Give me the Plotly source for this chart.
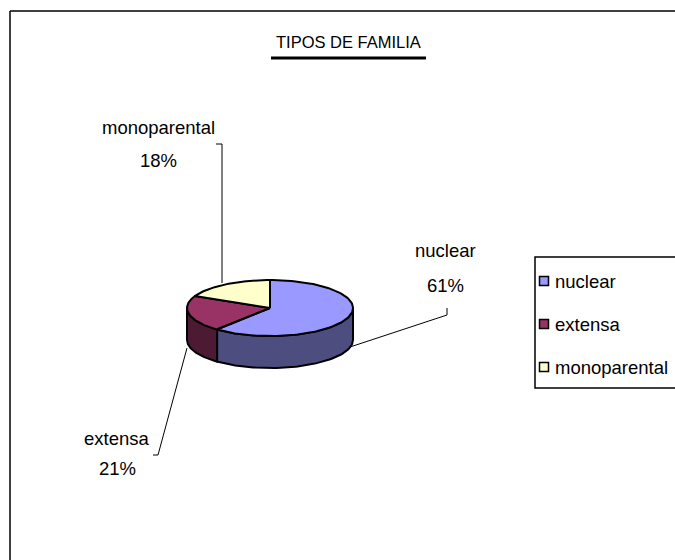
import numpy as np
import plotly.graph_objects as go

# ---- data ----
categories = ["nuclear", "extensa", "monoparental"]
values = [61, 21, 18]
title_text = "TIPOS DE FAMILIA"

# ---- styles ----
top_colors = ["#9999FF", "#993366", "#FFFFCC"]
side_colors = ["#4D4D80", "#4D1A33", "#808066"]
FONT = "Liberation Sans, Arial, sans-serif"
W, H = 675, 560
cx, cy, rx, ry, depth = 270, 308, 83, 28, 32

def rim(theta_deg, dy=0.0):
    t = np.radians(theta_deg)
    return cx + rx * np.sin(t), cy - ry * np.cos(t) + dy

total = sum(values)
bounds = np.cumsum([0] + values) / total * 360.0

fig = go.Figure()

# side walls (front half only: 90..270 deg)
for i, cat in enumerate(categories):
    a0, a1 = max(bounds[i], 90), min(bounds[i + 1], 270)
    if a1 <= a0:
        continue
    th = np.linspace(a0, a1, 80)
    xt, yt = rim(th)
    xb, yb = rim(th[::-1], depth)
    xs = np.concatenate([xt, xb, xt[:1]])
    ys = np.concatenate([yt, yb, yt[:1]])
    fig.add_trace(go.Scatter(x=xs, y=ys, mode="lines", fill="toself",
                             fillcolor=side_colors[i],
                             line=dict(color="black", width=2),
                             hoverinfo="skip", showlegend=False))

# top faces
for i, cat in enumerate(categories):
    th = np.linspace(bounds[i], bounds[i + 1], 120)
    xt, yt = rim(th)
    xs = np.concatenate([[cx], xt, [cx]])
    ys = np.concatenate([[cy], yt, [cy]])
    fig.add_trace(go.Scatter(x=xs, y=ys, mode="lines", fill="toself",
                             fillcolor=top_colors[i],
                             line=dict(color="black", width=2),
                             hoverinfo="skip", showlegend=False,
                             name=cat))

# data labels (name / percent) with leader lines
label_pos = {
    "nuclear": (445, 250, 285),
    "extensa": (117, 438, 468),
    "monoparental": (158, 127, 160),
}
leaders = {
    "nuclear": [(447, 308), (447, 315), (350, 347)],
    "extensa": [(153, 455), (158, 455), (187, 348)],
    "monoparental": [(216, 144), (222, 144), (222, 283)],
}
for i, cat in enumerate(categories):
    lx, ly1, ly2 = label_pos[cat]
    pct = round(values[i] / total * 100)
    fig.add_annotation(x=lx, y=ly1, text=cat, showarrow=False,
                       font=dict(family=FONT, size=18.5, color="black"))
    fig.add_annotation(x=lx, y=ly2, text=f"{pct}%", showarrow=False,
                       font=dict(family=FONT, size=18.5, color="black"))
    pts = leaders[cat]
    fig.add_trace(go.Scatter(x=[p[0] for p in pts], y=[p[1] for p in pts],
                             mode="lines", line=dict(color="black", width=1),
                             hoverinfo="skip", showlegend=False))

# legend (drawn)
fig.add_shape(type="rect", x0=535, y0=257, x1=700, y1=388,
              line=dict(color="black", width=1.5), fillcolor="white", layer="below")
leg_y = [281, 324, 367]
fig.add_trace(go.Scatter(x=[544] * 3, y=leg_y, mode="markers",
                         marker=dict(symbol="square", size=9, color=top_colors,
                                     line=dict(color="black", width=1.5)),
                         hoverinfo="skip", showlegend=False))
for i, cat in enumerate(categories):
    fig.add_annotation(x=553, y=leg_y[i], text=cat, showarrow=False, xanchor="left",
                       font=dict(family=FONT, size=18.5, color="black"))

# title
fig.add_annotation(x=348.5, y=42, text=title_text, showarrow=False,
                   font=dict(family=FONT, size=16.5, color="black"))
fig.add_shape(type="line", x0=271, y0=58, x1=426, y1=58,
              line=dict(color="black", width=3))

# chart frame (top and left edges visible)
fig.add_shape(type="line", x0=10, y0=11, x1=700, y1=11, line=dict(color="black", width=1.5))
fig.add_shape(type="line", x0=10, y0=11, x1=10, y1=600, line=dict(color="black", width=1.5))

fig.update_xaxes(range=[0, W], visible=False, fixedrange=True)
fig.update_yaxes(range=[H, 0], visible=False, fixedrange=True)
fig.update_layout(width=W, height=H, margin=dict(l=0, r=0, t=0, b=0),
                  plot_bgcolor="white", paper_bgcolor="white", showlegend=False,
                  hovermode=False)

fig.write_html("out.html", config={"displayModeBar": False},
               post_script="document.body.style.margin='0';document.body.style.overflow='hidden';")
